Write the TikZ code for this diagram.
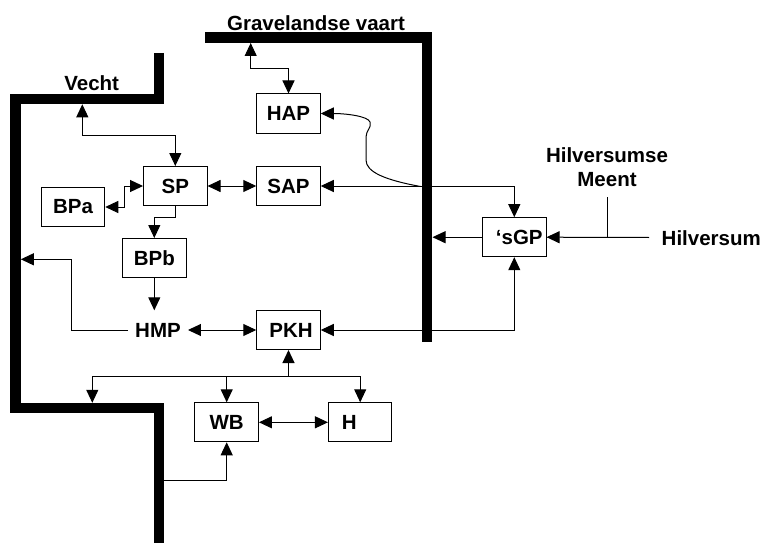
\documentclass[tikz,border=0pt]{standalone}
\usepackage{fontspec}
\setmainfont{Liberation Sans}
\usetikzlibrary{arrows.meta}
\tikzset{
  box/.style={draw, line width=1pt, minimum width=63.5pt, minimum height=39pt, inner sep=0pt},
  lbl/.style={inner sep=0pt},
  wall/.style={line width=10.5pt, line join=miter},
  conn/.style={line width=1pt},
  >={Triangle[length=13pt,width=12pt]}
}
\begin{document}
\begin{tikzpicture}[x=1pt,y=-1pt,font=\fontsize{20.5}{24}\selectfont\bfseries]
\useasboundingbox (0,0) rectangle (761,543);
% walls
\draw[wall] (159,53) -- (159,99) -- (15.5,99) -- (15.5,408) -- (159,408) -- (159,543);
\draw[wall] (205,37.5) -- (427,37.5) -- (427,342);
% labels
\node[lbl] (grav) at (316,23) {Gravelandse vaart};
\node[lbl] (vecht) at (91.7,83) {Vecht};
\node[lbl, align=center] (meent) at (607,167) {Hilversumse\\Meent};
\node[lbl] (hilv) at (711.3,238.5) {Hilversum};
% boxes
\node[box] (HAP) at (288.5,113.5) {HAP};
\node[box] (SP) at (175.3,186) {SP};
\node[box] (SAP) at (288.5,186) {SAP};
\node[box] (BPa) at (73,207) {BPa};
\node[box] (BPb) at (154.3,258) {BPb};
\node[minimum height=39pt, inner ysep=0pt, inner xsep=7pt] (HMP) at (158,330) {HMP};
\node[box] (PKH) at (288.5,330) {\hspace*{5pt}PKH};
\node[box] (WB) at (226.7,422.3) {WB};
\node[box] (H) at (360.2,422.3) {H\hspace*{22pt}};
\node[box] (sGP) at (514.3,237.2) {\hspace*{10pt}‘sGP};
% free ends
\coordinate (vA) at (82.3,104.3);
\coordinate (vB) at (82.3,135.3);
\coordinate (gA) at (250.7,43);
\coordinate (gB) at (250.7,69);
\coordinate (hm1) at (71.7,259.3);
\coordinate (vL) at (20.8,259.3);
\coordinate (gR) at (432.5,237.2);
\coordinate (cS) at (420.5,186.5);
\coordinate (tJ) at (288.5,376);
\coordinate (tLb) at (92.3,402.8);
\coordinate (wS) at (164.3,480);
\coordinate (hl) at (649,237.5);
\coordinate (mtop) at (607,197);
% connectors
\draw[conn,<->] (vA) -- (vB) -| (SP.north);
\draw[conn,<->] (gA) -- (gB) -| (HAP.north);
\draw[conn,<->] (BPa.east) -- ++(19,0) |- (SP.west);
\draw[conn,<->] (SP.east) -- (SAP.west);
\draw[conn,->] (SP.south) -- ++(0,11) -| (BPb.north);
\draw[conn,->] (BPb.south) -- (BPb.south |- HMP.north);
\draw[conn,->] (HMP.west) -| (hm1) -- (vL);
\draw[conn,<->] (HMP.east) -- (PKH.west);
\draw[conn,<->] (PKH.east) -| (sGP.south);
\draw[conn,<->] (SAP.east) -| (sGP.north);
\draw[conn,->] (sGP.west) -- (gR);
\draw[conn,->] (cS) .. controls (385,180) and (366,172) .. (366,160) -- (366,137)
  .. controls (366,130) and (372,128) .. (370,122)
  .. controls (368,116) and (345,113.5) .. (HAP.east);
\draw[conn,->] (tJ) -- (PKH.south);
\draw[conn,->] (tJ) -| (H.north);
\draw[conn,->] (tJ) -| (WB.north);
\draw[conn,->] (tJ) -| (tLb);
\draw[conn,->] (wS) -| (WB.south);
\draw[conn,<->] (WB.east) -- (H.west);
\draw[conn,->] (hl) -- (sGP.east);
\draw[conn] (mtop) -- (mtop |- sGP.east);
\end{tikzpicture}
\end{document}
